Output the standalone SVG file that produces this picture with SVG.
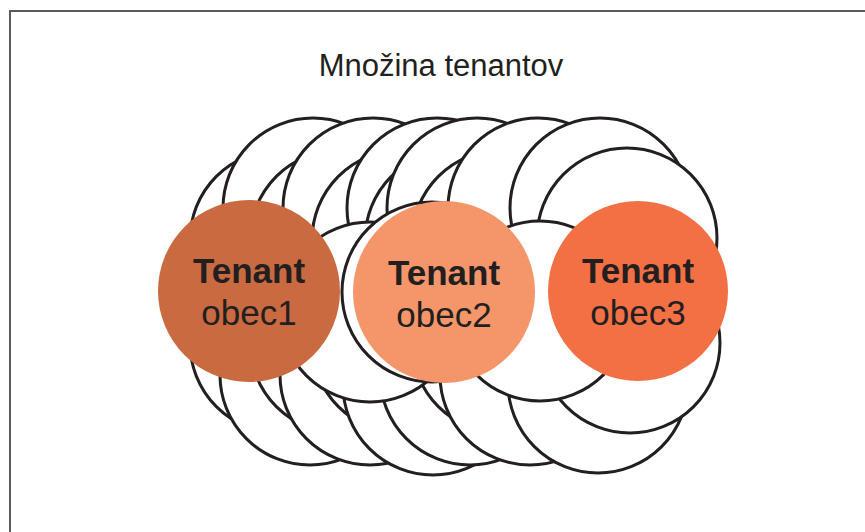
<svg xmlns="http://www.w3.org/2000/svg" width="865" height="532" viewBox="0 0 865 532">
<style>
.frame{fill:none;stroke:#5a5a5a;stroke-width:2}
.w{fill:#fff;stroke:#231f20;stroke-width:3}
.title{font-family:"Liberation Sans",Arial,sans-serif;font-size:31px;fill:#231f20;text-anchor:middle}
.t1{font-family:"Liberation Sans",Arial,sans-serif;font-size:35px;font-weight:bold;fill:#231f20;text-anchor:middle}
.t2{font-family:"Liberation Sans",Arial,sans-serif;font-size:35px;fill:#231f20;text-anchor:middle}
</style>
<rect width="865" height="532" fill="#fff"/>
<path class="frame" d="M10,540 V11 H870"/>
<text class="title" x="441" y="76">Množina tenantov</text>
<g id="stack">
<circle class="w" cx="280" cy="240" r="90"/>
<circle class="w" cx="280" cy="343" r="90"/>
<circle class="w" cx="310" cy="375" r="90"/>
<circle class="w" cx="313" cy="208" r="90"/>
<circle class="w" cx="340" cy="240" r="90"/>
<circle class="w" cx="340" cy="343" r="90"/>
<circle class="w" cx="370" cy="375" r="90"/>
<circle class="w" cx="373" cy="208" r="90"/>
<circle class="w" cx="402" cy="240" r="90"/>
<circle class="w" cx="402" cy="343" r="90"/>
<circle class="w" cx="433" cy="385" r="90"/>
<circle class="w" cx="437" cy="208" r="90"/>
<circle class="w" cx="455" cy="240" r="90"/>
<circle class="w" cx="455" cy="343" r="90"/>
<circle class="w" cx="470" cy="375" r="90"/>
<circle class="w" cx="477" cy="208" r="90"/>
<circle class="w" cx="502" cy="240" r="90"/>
<circle class="w" cx="502" cy="343" r="90"/>
<circle class="w" cx="530" cy="375" r="90"/>
<circle class="w" cx="538" cy="208" r="90"/>
<circle class="w" cx="598" cy="383" r="90"/>
<circle class="w" cx="600" cy="208" r="90"/>
<circle class="w" cx="627" cy="238" r="90"/>
<circle class="w" cx="630" cy="343" r="90"/>
<circle class="w" cx="370" cy="312" r="90"/>
<circle class="w" cx="432" cy="292" r="90"/>
<circle class="w" cx="540" cy="311" r="90"/>
</g>
<g id="tenant1">
<circle cx="249" cy="291" r="91" fill="#c96a40"/>
<text class="t1" x="249" y="283">Tenant</text>
<text class="t2" x="249" y="325">obec1</text>
</g>
<g id="tenant2">
<circle cx="444" cy="292" r="91" fill="#f5956a"/>
<text class="t1" x="444" y="285">Tenant</text>
<text class="t2" x="444" y="327">obec2</text>
</g>
<g id="tenant3">
<circle cx="638" cy="291" r="90" fill="#f37044"/>
<text class="t1" x="638" y="283">Tenant</text>
<text class="t2" x="638" y="325">obec3</text>
</g>
<g id="connectors"/>
</svg>
